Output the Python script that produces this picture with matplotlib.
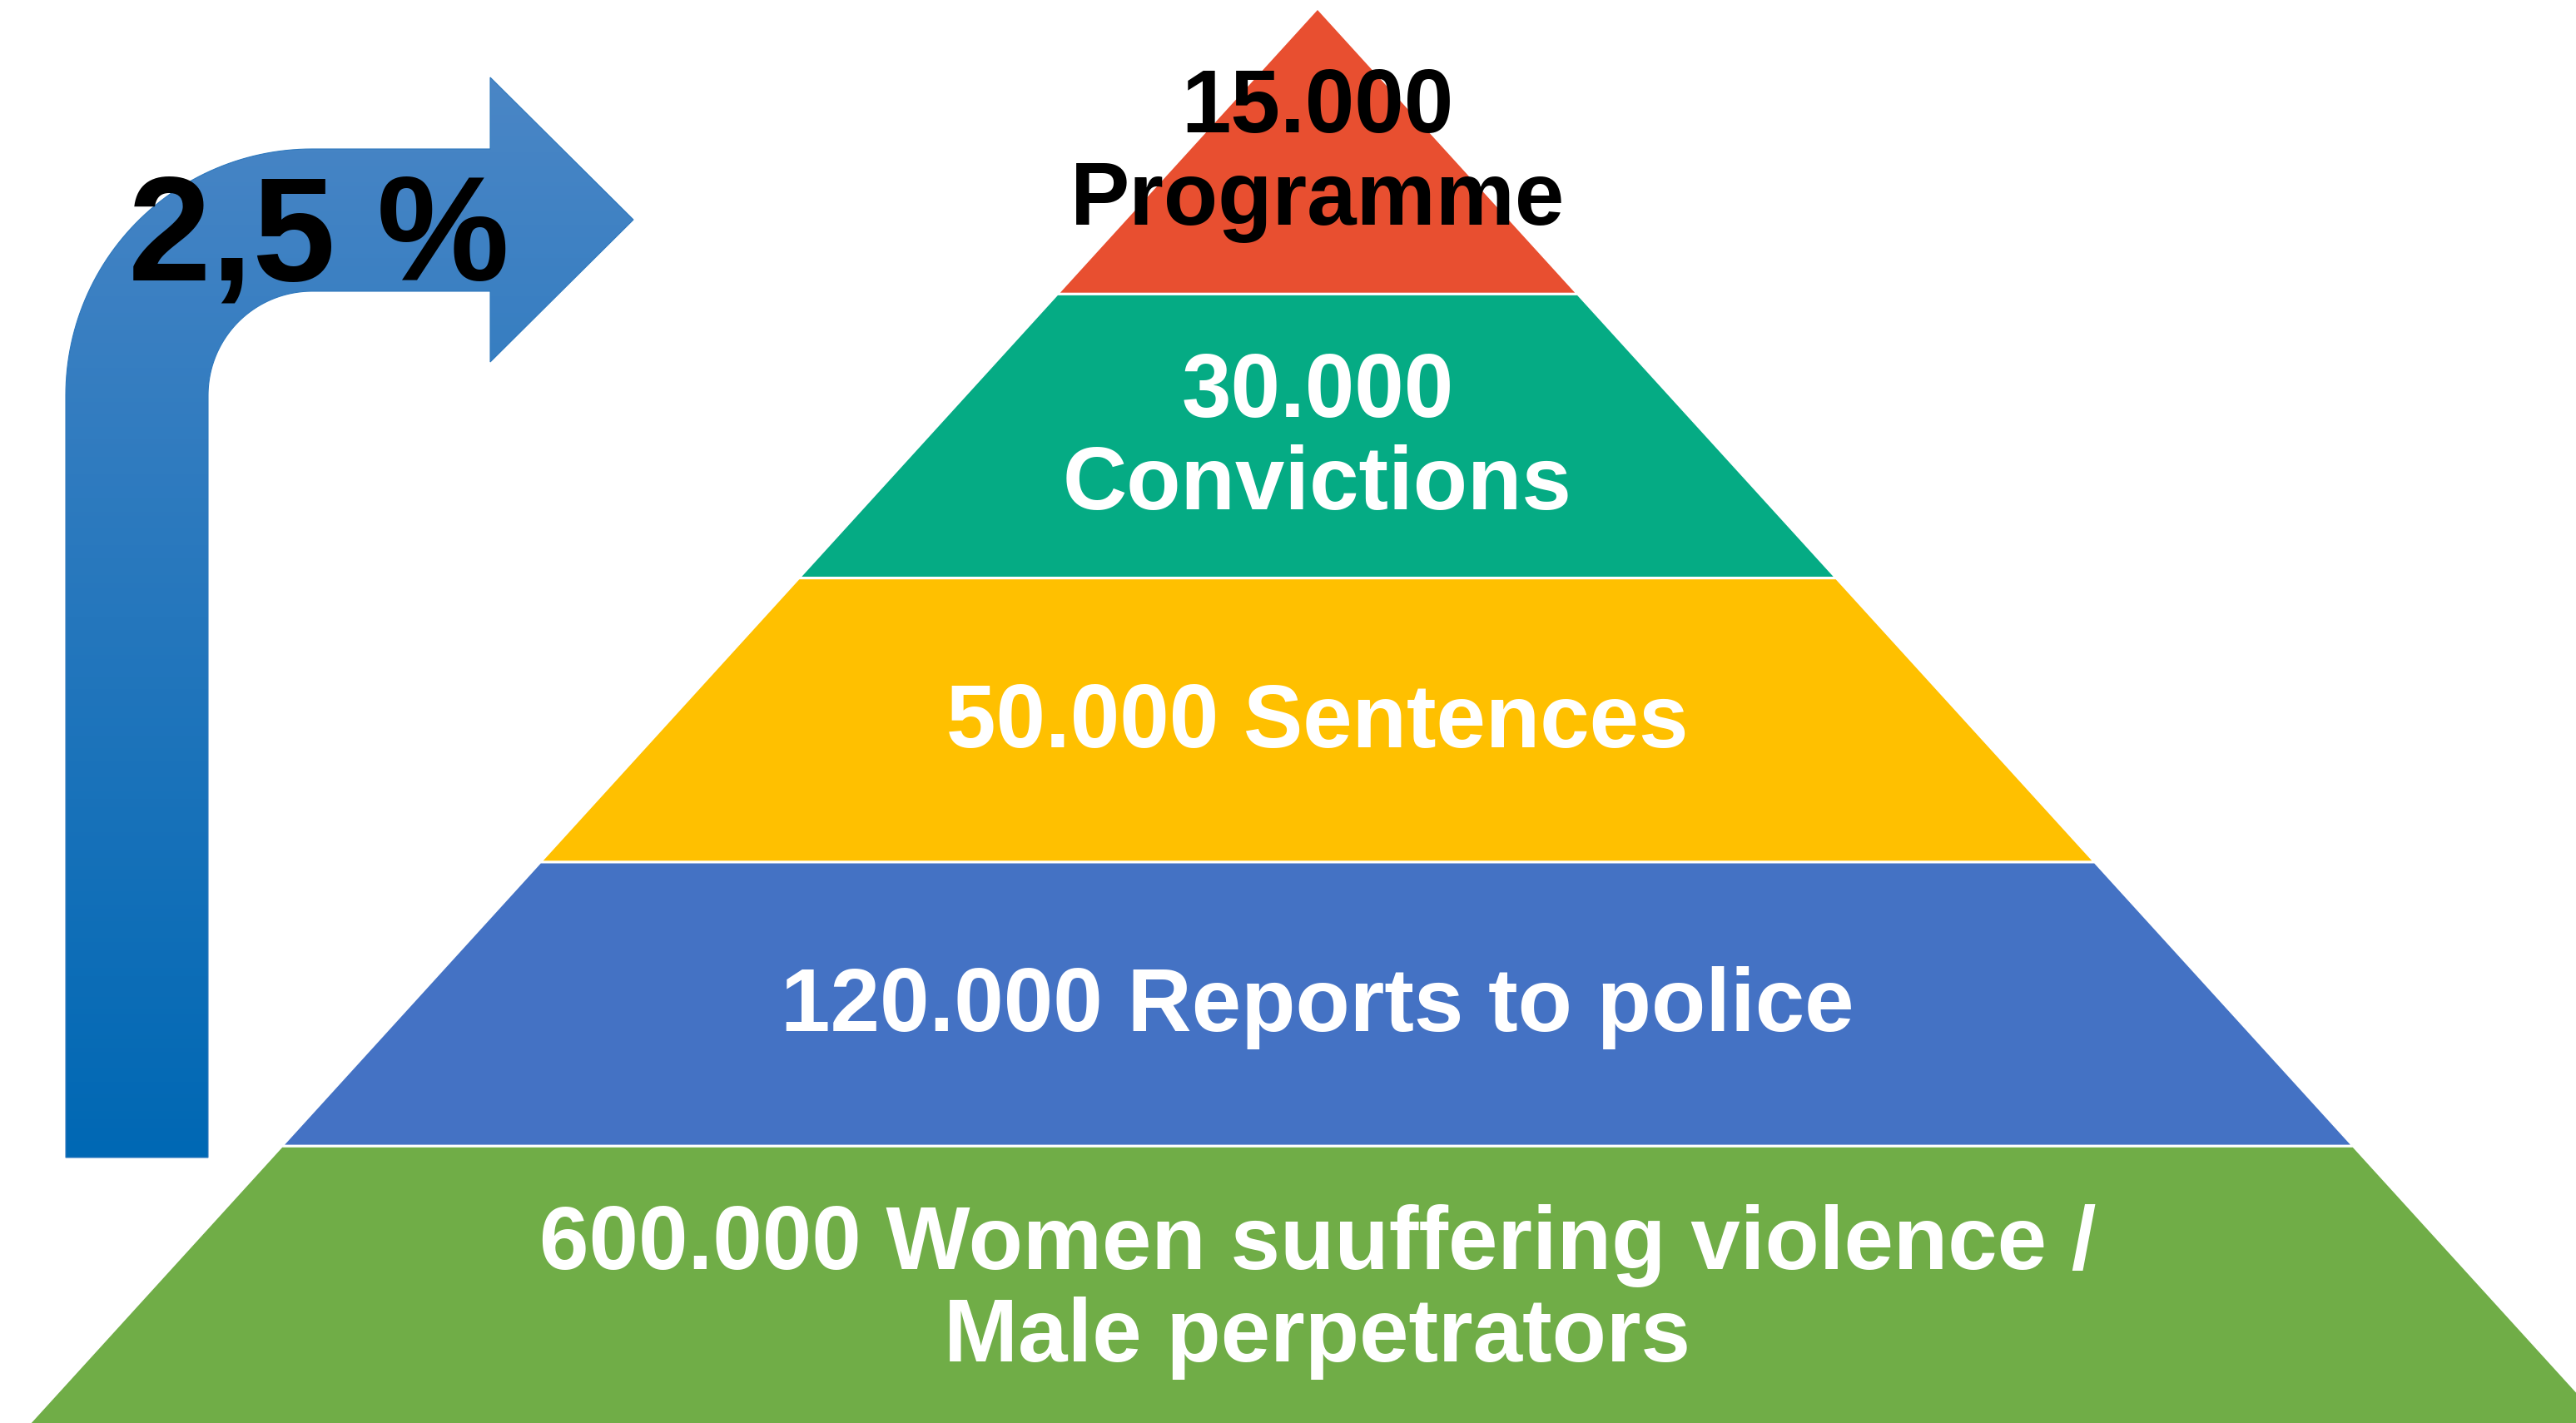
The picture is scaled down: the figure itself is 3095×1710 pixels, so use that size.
import matplotlib
matplotlib.use("Agg")
import matplotlib.pyplot as plt
from matplotlib.patches import Polygon, PathPatch
from matplotlib.path import Path
from matplotlib.colors import LinearSegmentedColormap
import numpy as np

# Pyramid layers, top to bottom (equal heights, labels carry the numbers)
layer_labels = [
    "15.000\nProgramme",
    "30.000\nConvictions",
    "50.000 Sentences",
    "120.000 Reports to police",
    "600.000 Women suuffering violence /\nMale perpetrators",
]
layer_colors = ["#E84F30", "#05AB84", "#FFC000", "#4472C4", "#70AD47"]
label_colors = ["black", "white", "white", "white", "white"]

# Bent arrow on the left
arrow_label = "2,5 %"
arrow_colors = ["#4A86C6", "#0068B4"]

plt.rcParams["font.family"] = ["Liberation Sans", "DejaVu Sans"]

W, H = 3095, 1710
fig = plt.figure(figsize=(W / 100, H / 100), dpi=100)
ax = fig.add_axes([0, 0, 1, 1])

# --- pyramid ---
apex_x, apex_y = 1583, 12
layer_h = 341.3
slope = 0.91          # half-width growth per pixel of height
gap = 1.6             # white seam between layers
fs = 77
cap = 0.716 * fs * 100 / 72
line_step = 111

def half_w(y):
    return slope * (y - apex_y)

for i, (label, color, tcolor) in enumerate(zip(layer_labels, layer_colors, label_colors)):
    y0 = apex_y + i * layer_h + (gap if i else 0)
    y1 = apex_y + (i + 1) * layer_h - gap
    pts = [(apex_x - half_w(y0), y0), (apex_x + half_w(y0), y0),
           (apex_x + half_w(y1), y1), (apex_x - half_w(y1), y1)]
    ax.add_patch(Polygon(pts, closed=True, facecolor=color, edgecolor="none"))

    lines = label.split("\n")
    yc = apex_y + (i + 0.5) * layer_h - 6
    for j, line in enumerate(lines):
        ly = yc + (j - (len(lines) - 1) / 2) * line_step
        ax.text(apex_x, ly + cap / 2, line, ha="center", va="baseline",
                fontsize=fs, fontweight="bold", color=tcolor, zorder=5)

# --- bent arrow with vertical gradient ---
cx, cy = 375, 475
r_out, r_in = 296, 125
t_out = np.linspace(np.pi, 1.5 * np.pi, 60)
t_in = np.linspace(1.5 * np.pi, np.pi, 60)
verts = [(79, 1391)]
verts += list(zip(cx + r_out * np.cos(t_out), cy + r_out * np.sin(t_out)))
verts += [(589, 179), (589, 93), (761, 264), (589, 435), (589, 350)]
verts += list(zip(cx + r_in * np.cos(t_in), cy + r_in * np.sin(t_in)))
verts += [(250, 1391), (79, 1391)]
arrow_path = Path(verts, closed=True)
arrow_patch = PathPatch(arrow_path, facecolor="none", edgecolor="#2E78BD", lw=0.8, zorder=3)
ax.add_patch(arrow_patch)

cmap = LinearSegmentedColormap.from_list("arrow", arrow_colors)
grad = np.linspace(0, 1, 256)[:, None]
im = ax.imshow(grad, extent=[79, 761, 1391, 93], cmap=cmap, aspect="auto", zorder=2)
im.set_clip_path(arrow_patch)

ax.text(383, 337, arrow_label, ha="center", va="baseline",
        fontsize=129, fontweight="bold", color="black", zorder=5)

ax.set_xlim(0, W)
ax.set_ylim(H, 0)
ax.axis("off")

fig.savefig("out.png", dpi=100, facecolor="white")
